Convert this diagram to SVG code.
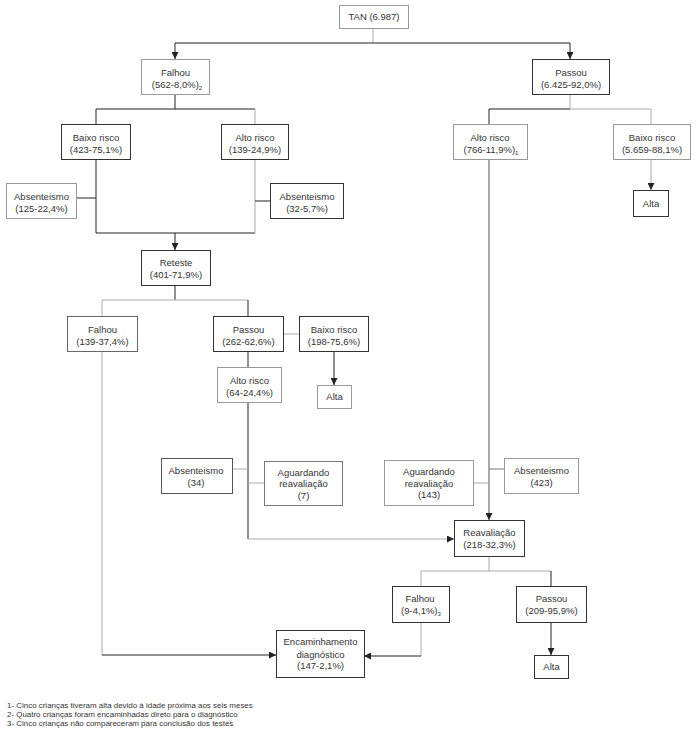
<svg xmlns="http://www.w3.org/2000/svg" width="700" height="742" viewBox="0 0 700 742">
<style>
text{font-family:"Liberation Sans",Arial,sans-serif;font-size:9.5px;fill:#333;text-anchor:middle}
.bd{fill:#fff;stroke:#333;stroke-width:1}
.bl{fill:#fff;stroke:#999;stroke-width:1}
.cd{fill:none;stroke:#222;stroke-width:1}
.cl{fill:none;stroke:#aaa;stroke-width:1}
.sub{font-size:6px}
.note{font-size:7.95px;text-anchor:start}
</style>
<defs>
<marker id="ah" viewBox="0 0 10 10" refX="10" refY="5" markerWidth="7" markerHeight="7" orient="auto" markerUnits="userSpaceOnUse">
<path d="M0,0 L10,5 L0,10 z" fill="#222"/>
</marker>
</defs>
<rect width="700" height="742" fill="#fff"/>
<g id="connectors">
<path class="cl" d="M373,28 V43"/>
<path class="cd" d="M373,43 H175 V59" marker-end="url(#ah)"/>
<path class="cd" d="M373,43 H570 V59" marker-end="url(#ah)"/>
<path class="cd" d="M175,95 V109"/>
<path class="cd" d="M96,124 V109 H255"/>
<path class="cl" d="M255,109 V124"/>
<path class="cd" d="M96,159 V233 H255"/>
<path class="cl" d="M255,159 V233"/>
<path class="cd" d="M76,198 H96"/>
<path class="cd" d="M255,201 H270"/>
<path class="cd" d="M175,233 V250" marker-end="url(#ah)"/>
<path class="cd" d="M175,285 V300"/>
<path class="cl" d="M102,316 V300 H248"/>
<path class="cd" d="M248,300 V316"/>
<path class="cl" d="M283,334 H299"/>
<path class="cd" d="M248,351 V367"/>
<path class="cd" d="M334,352 V385" marker-end="url(#ah)"/>
<path class="cd" d="M248,402 V539"/>
<path class="cl" d="M248,539 H454" marker-end="url(#ah)"/>
<path class="cl" d="M232,469 H248"/>
<path class="cl" d="M248,483 H264"/>
<path class="cl" d="M102,351 V655"/>
<path class="cd" d="M102,655 H276" marker-end="url(#ah)"/>
<path class="cl" d="M570,94 V109"/>
<path class="cd" d="M489,124 V109 H570"/>
<path class="cl" d="M570,109 H651 V124"/>
<path class="cl" d="M651,159 V190" marker-end="url(#ah)"/>
<path class="cd" d="M489,159 V520" marker-end="url(#ah)" style="stroke:#555"/>
<path class="cl" d="M473,483 H489"/>
<path class="cd" d="M489,469 H504" style="stroke:#777"/>
<path class="cl" d="M489,556 V571"/>
<path class="cl" d="M421,586 V571 H551"/>
<path class="cd" d="M551,571 V586"/>
<path class="cd" d="M551,622 V655" marker-end="url(#ah)"/>
<path class="cl" d="M421,622 V656"/>
<path class="cd" d="M421,656 H364" marker-end="url(#ah)"/>
</g>
<g id="tan"><rect class="bl" x="339.5" y="5.5" width="69" height="23"/><text x="374" y="20">TAN (6.987)</text></g>
<g id="falhou1"><rect class="bl" x="141.5" y="59.5" width="68" height="35"/><text x="175.5" y="76">Falhou</text><text x="177" y="88">(562-8,0%)<tspan class="sub" dy="2">2</tspan></text></g>
<g id="passou1"><rect class="bd" x="532.5" y="59.5" width="77" height="35"/><text x="571" y="76">Passou</text><text x="571" y="88">(6.425-92,0%)</text></g>
<g id="baixo1"><rect class="bd" x="61.5" y="124.5" width="69" height="35"/><text x="96" y="141">Baixo risco</text><text x="96" y="153">(423-75,1%)</text></g>
<g id="alto1"><rect class="bd" x="221.5" y="124.5" width="67" height="35"/><text x="255" y="141">Alto risco</text><text x="255" y="153">(139-24,9%)</text></g>
<g id="alto2"><rect class="bl" x="453.5" y="124.5" width="74" height="35"/><text x="490" y="141">Alto risco</text><text x="491" y="153">(766-11,9%)<tspan class="sub" dy="2">1</tspan></text></g>
<g id="baixo2"><rect class="bl" x="613.5" y="124.5" width="77" height="35"/><text x="652" y="141">Baixo risco</text><text x="652" y="153">(5.659-88,1%)</text></g>
<g id="abs1"><rect class="bl" x="6.5" y="183.5" width="70" height="35"/><text x="41.5" y="200">Absenteismo</text><text x="41.5" y="212">(125-22,4%)</text></g>
<g id="abs2"><rect class="bd" x="270.5" y="183.5" width="73" height="35"/><text x="307" y="200">Absenteismo</text><text x="307" y="212">(32-5,7%)</text></g>
<g id="alta1"><rect class="bd" x="633.5" y="190.5" width="35" height="26"/><text x="651" y="207">Alta</text></g>
<g id="reteste"><rect class="bd" x="141.5" y="250.5" width="69" height="35"/><text x="176" y="266">Reteste</text><text x="176" y="278">(401-71,9%)</text></g>
<g id="falhou2"><rect class="bd" x="67.5" y="316.5" width="70" height="35" style="stroke:#666"/><text x="102.5" y="333">Falhou</text><text x="102.5" y="345">(139-37,4%)</text></g>
<g id="passou2"><rect class="bd" x="213.5" y="316.5" width="70" height="35"/><text x="248.5" y="333">Passou</text><text x="248.5" y="345">(262-62,6%)</text></g>
<g id="baixo3"><rect class="bd" x="299.5" y="316.5" width="69" height="35"/><text x="334" y="333">Baixo risco</text><text x="334" y="345">(198-75,6%)</text></g>
<g id="alto3"><rect class="bl" x="217.5" y="367.5" width="64" height="35"/><text x="249.5" y="384">Alto risco</text><text x="249.5" y="396">(64-24,4%)</text></g>
<g id="alta2"><rect class="bl" x="317.5" y="385.5" width="34" height="23"/><text x="334.5" y="400">Alta</text></g>
<g id="abs3"><rect class="bl" x="161.5" y="458.5" width="71" height="35" style="stroke:#555"/><text x="196" y="474">Absenteismo</text><text x="196" y="486">(34)</text></g>
<g id="aguard1"><rect class="bl" x="264.5" y="461.5" width="78" height="44" style="stroke:#777"/><text x="303.5" y="475.5">Aguardando</text><text x="303.5" y="487">reavaliação</text><text x="303.5" y="498.5">(7)</text></g>
<g id="aguard2"><rect class="bl" x="384.5" y="460.5" width="89" height="45"/><text x="429" y="475">Aguardando</text><text x="429" y="486.5">reavaliação</text><text x="429" y="498">(143)</text></g>
<g id="abs4"><rect class="bl" x="504.5" y="458.5" width="74" height="35"/><text x="541.5" y="474">Absenteismo</text><text x="541.5" y="486">(423)</text></g>
<g id="reaval"><rect class="bd" x="454.5" y="520.5" width="70" height="36"/><text x="489.5" y="536">Reavaliação</text><text x="489.5" y="548">(218-32,3%)</text></g>
<g id="falhou3"><rect class="bd" x="392.5" y="586.5" width="57" height="36"/><text x="420" y="602">Falhou</text><text x="421" y="614">(9-4,1%)<tspan class="sub" dy="2">3</tspan></text></g>
<g id="passou3"><rect class="bd" x="516.5" y="586.5" width="70" height="36"/><text x="551.5" y="602">Passou</text><text x="551.5" y="614">(209-95,9%)</text></g>
<g id="encam"><rect class="bd" x="276.5" y="630.5" width="88" height="47"/><text x="320.5" y="645">Encaminhamento</text><text x="320.5" y="657.5">diagnóstico</text><text x="320.5" y="669">(147-2,1%)</text></g>
<g id="alta3"><rect class="bd" x="534.5" y="655.5" width="34" height="23"/><text x="551.5" y="670">Alta</text></g>
<g id="notes">
<text class="note" x="7" y="708">1- Cinco crianças tiveram alta devido à idade próxima aos seis meses</text>
<text class="note" x="7" y="717">2- Quatro crianças foram encaminhadas direto para o diagnóstico</text>
<text class="note" x="7" y="726">3- Cinco crianças não compareceram para conclusão dos testes</text>
</g>
</svg>
